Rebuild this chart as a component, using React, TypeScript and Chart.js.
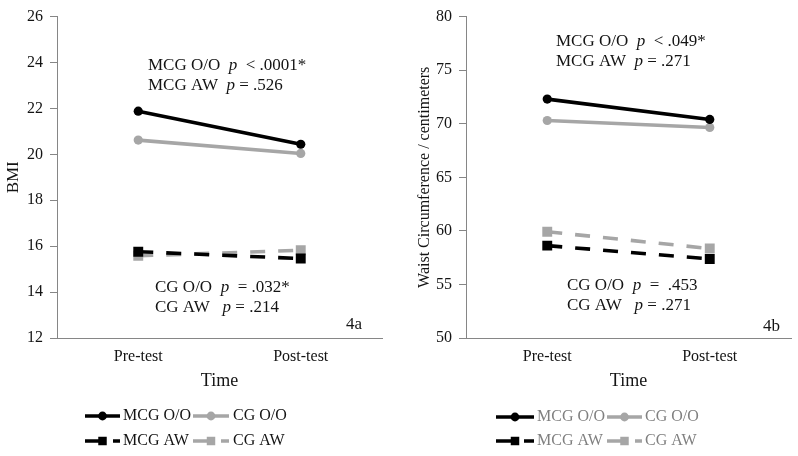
import React, { useEffect, useRef } from 'react';
import { Chart, registerables } from 'chart.js';

Chart.register(...registerables);

// ---------- data ----------
const CATEGORIES = ['Pre-test', 'Post-test'];
const SERIES_NAMES = ['MCG O/O', 'CG O/O', 'MCG AW', 'CG AW'];

const BMI_MCG_OO = [21.88, 20.44];
const BMI_CG_OO = [20.62, 20.04];
const BMI_MCG_AW = [15.76, 15.46];
const BMI_CG_AW = [15.58, 15.82];

const WC_MCG_OO = [72.3, 70.4];
const WC_CG_OO = [70.3, 69.65];
const WC_MCG_AW = [58.62, 57.38];
const WC_CG_AW = [59.92, 58.35];

const BMI_RANGE = [12, 26, 2];
const WC_RANGE = [50, 80, 5];

const BMI_TITLE = 'BMI';
const WC_TITLE = 'Waist Circumference / centimeters';
const X_TITLE = 'Time';

const BMI_NOTES = [
  ['MCG O/O  ', 'p', '  < .0001*'],
  ['MCG AW  ', 'p', ' = .526'],
  ['CG O/O  ', 'p', '  = .032*'],
  ['CG AW   ', 'p', ' = .214'],
];
const WC_NOTES = [
  ['MCG O/O  ', 'p', '  < .049*'],
  ['MCG AW  ', 'p', ' = .271'],
  ['CG O/O  ', 'p', '  =  .453'],
  ['CG AW   ', 'p', ' = .271'],
];
const BMI_TAG = '4a';
const WC_TAG = '4b';

// ---------- styles ----------
const FONT = '"Liberation Serif", "Times New Roman", serif';
const BLACK = '#000000';
const GRAY = '#a6a6a6';
const AXIS = '#868686';
const TEXT = '#141414';
const DASH = [15, 13];

const SERIES_STYLE = [
  { color: BLACK, dash: [] as number[], point: 'circle', r: 4.6 },
  { color: GRAY, dash: [] as number[], point: 'circle', r: 4.6 },
  { color: BLACK, dash: DASH, point: 'rect', r: 7 },
  { color: GRAY, dash: DASH, point: 'rect', r: 7 },
];

type PanelCfg = {
  left: number;
  width: number;
  yWidth: number;
  padRight: number;
  range: number[];
  series: number[][];
  yTitle: string;
  yTitleSize: number;
  yTitlePad: number;
  notes: string[][];
  notePos: number[][];
  tag: string;
  tagPos: number[];
  legendCols: number[][]; // [lineStart, lineEnd, textX]
  legendRows: number[];
  legendColor: string;
};

function drawRich(ctx: CanvasRenderingContext2D, x: number, y: number, parts: string[]) {
  let cx = x;
  parts.forEach((t, i) => {
    ctx.font = `${i === 1 ? 'italic ' : ''}17px ${FONT}`;
    ctx.fillText(t, cx, y);
    cx += ctx.measureText(t).width;
  });
}

function drawMarker(ctx: CanvasRenderingContext2D, kind: string, x: number, y: number, r: number, color: string) {
  ctx.save();
  ctx.setLineDash([]);
  ctx.fillStyle = color;
  ctx.beginPath();
  if (kind === 'circle') {
    ctx.arc(x, y, r, 0, Math.PI * 2);
  } else {
    const s = r * Math.SQRT1_2;
    ctx.rect(x - s, y - s, 2 * s, 2 * s);
  }
  ctx.fill();
  ctx.restore();
}

function Panel({ cfg }: { cfg: PanelCfg }) {
  const ref = useRef<HTMLCanvasElement>(null);
  useEffect(() => {
    const canvas = ref.current!;
    const overlay = {
      id: 'overlay',
      afterDraw(chart: any) {
        const ctx: CanvasRenderingContext2D = chart.ctx;
        ctx.save();
        ctx.fillStyle = TEXT;
        ctx.textBaseline = 'middle';
        ctx.textAlign = 'left';
        cfg.notes.forEach((n, i) => drawRich(ctx, cfg.notePos[i][0], cfg.notePos[i][1], n));
        ctx.font = `17px ${FONT}`;
        ctx.fillText(cfg.tag, cfg.tagPos[0], cfg.tagPos[1]);
        // legend
        SERIES_NAMES.forEach((name, i) => {
          const st = SERIES_STYLE[i];
          const col = cfg.legendCols[i % 2];
          const y = cfg.legendRows[Math.floor(i / 2)];
          ctx.save();
          ctx.strokeStyle = st.color;
          ctx.lineWidth = 3.5;
          ctx.setLineDash(st.dash);
          ctx.beginPath();
          ctx.moveTo(col[0], y);
          ctx.lineTo(col[1], y);
          ctx.stroke();
          ctx.restore();
          drawMarker(ctx, st.point, (col[0] + col[1]) / 2, y, st.point === 'circle' ? 4.4 : 6, st.color);
          ctx.fillStyle = cfg.legendColor;
          ctx.font = `16px ${FONT}`;
          ctx.textBaseline = 'middle';
          ctx.fillText(name, col[2], y);
        });
        ctx.restore();
      },
    };
    const chart = new Chart(canvas, {
      type: 'line',
      data: {
        labels: CATEGORIES,
        datasets: SERIES_NAMES.map((name, i) => ({
          label: name,
          data: cfg.series[i],
          borderColor: SERIES_STYLE[i].color,
          backgroundColor: SERIES_STYLE[i].color,
          borderWidth: 3.6,
          borderDash: SERIES_STYLE[i].dash,
          pointStyle: SERIES_STYLE[i].point as any,
          pointRadius: SERIES_STYLE[i].r,
          pointBorderWidth: 0,
          tension: 0,
          fill: false,
        })),
      },
      options: {
        animation: false,
        responsive: false,
        events: [],
        layout: { padding: { top: 15, bottom: 64, left: 0, right: cfg.padRight } },
        plugins: { legend: { display: false }, tooltip: { enabled: false } },
        scales: {
          x: {
            offset: true,
            grid: { display: false, drawTicks: false },
            border: { display: true, color: AXIS, width: 1 },
            ticks: { font: { family: FONT, size: 16 }, color: TEXT, padding: 9 },
            title: {
              display: true,
              text: X_TITLE,
              font: { family: FONT, size: 18 },
              color: TEXT,
              padding: { top: 0, bottom: 0 },
            },
            afterFit: (s: any) => {
              s.height = 54;
            },
          },
          y: {
            min: cfg.range[0],
            max: cfg.range[1],
            ticks: { stepSize: cfg.range[2], font: { family: FONT, size: 16 }, color: TEXT, padding: 7 },
            grid: { drawOnChartArea: false, drawTicks: true, tickLength: 7, color: AXIS, lineWidth: 1 },
            border: { display: true, color: AXIS, width: 1 },
            title: {
              display: true,
              text: cfg.yTitle,
              font: { family: FONT, size: cfg.yTitleSize },
              color: TEXT,
              padding: { top: cfg.yTitlePad, bottom: 0 },
            },
            afterFit: (s: any) => {
              s.width = cfg.yWidth;
            },
          },
        },
      },
      plugins: [overlay],
    });
    return () => chart.destroy();
  }, []);
  return (
    <canvas
      ref={ref}
      width={cfg.width}
      height={456}
      style={{ position: 'absolute', left: cfg.left, top: 0, width: cfg.width, height: 456 }}
    />
  );
}

const LEFT: PanelCfg = {
  left: 0,
  width: 399,
  yWidth: 57,
  padRight: 17,
  range: BMI_RANGE,
  series: [BMI_MCG_OO, BMI_CG_OO, BMI_MCG_AW, BMI_CG_AW],
  yTitle: BMI_TITLE,
  yTitleSize: 17,
  yTitlePad: 3,
  notes: BMI_NOTES,
  notePos: [[148, 66], [148, 86], [155, 288], [155, 308]],
  tag: BMI_TAG,
  tagPos: [346, 325],
  legendCols: [[85, 120, 123], [193, 229, 233]],
  legendRows: [416, 441],
  legendColor: TEXT,
};

const RIGHT: PanelCfg = {
  left: 399,
  width: 399,
  yWidth: 67,
  padRight: 5,
  range: WC_RANGE,
  series: [WC_MCG_OO, WC_CG_OO, WC_MCG_AW, WC_CG_AW],
  yTitle: WC_TITLE,
  yTitleSize: 16,
  yTitlePad: 16,
  notes: WC_NOTES,
  notePos: [[157, 42], [157, 62], [168, 286], [168, 306]],
  tag: WC_TAG,
  tagPos: [364, 327],
  legendCols: [[97, 135, 138], [208, 243, 246]],
  legendRows: [417, 441],
  legendColor: '#808080',
};

export default function App() {
  return (
    <div style={{ position: 'absolute', left: 0, top: 0, width: 798, height: 456, background: '#fff' }}>
      <Panel cfg={LEFT} />
      <Panel cfg={RIGHT} />
    </div>
  );
}
